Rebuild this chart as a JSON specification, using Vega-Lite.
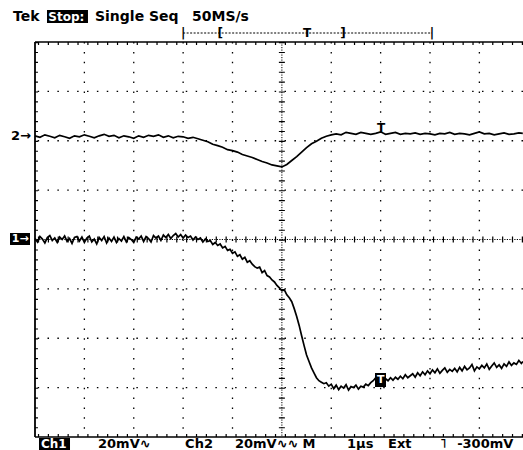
{
  "$schema": "https://vega.github.io/schema/vega-lite/v6.json",
  "width": 488,
  "height": 395,
  "autosize": {"type": "none"},
  "padding": {"left": 35, "top": 42, "right": 0, "bottom": 13},
  "background": "white",
  "config": {"view": {"stroke": null}, "axis": {"disable": true}},
  "datasets": {
    "one": [{"k": 0}],
    "traces": [
      {"ch":"2","t":0.0,"v":2.10},{"ch":"2","t":0.1,"v":2.07},{"ch":"2","t":0.2,"v":2.12},{"ch":"2","t":0.3,"v":2.09},{"ch":"2","t":0.4,"v":2.06},{"ch":"2","t":0.5,"v":2.11},{"ch":"2","t":0.6,"v":2.08},{"ch":"2","t":0.7,"v":2.05},{"ch":"2","t":0.8,"v":2.10},{"ch":"2","t":0.9,"v":2.08},
      {"ch":"2","t":1.0,"v":2.12},{"ch":"2","t":1.1,"v":2.09},{"ch":"2","t":1.2,"v":2.06},{"ch":"2","t":1.3,"v":2.10},{"ch":"2","t":1.4,"v":2.13},{"ch":"2","t":1.5,"v":2.09},{"ch":"2","t":1.6,"v":2.11},{"ch":"2","t":1.7,"v":2.06},{"ch":"2","t":1.8,"v":2.10},{"ch":"2","t":1.9,"v":2.08},
      {"ch":"2","t":2.0,"v":2.05},{"ch":"2","t":2.1,"v":2.10},{"ch":"2","t":2.2,"v":2.07},{"ch":"2","t":2.3,"v":2.11},{"ch":"2","t":2.4,"v":2.09},{"ch":"2","t":2.5,"v":2.12},{"ch":"2","t":2.6,"v":2.07},{"ch":"2","t":2.7,"v":2.10},{"ch":"2","t":2.8,"v":2.06},{"ch":"2","t":2.9,"v":2.09},
      {"ch":"2","t":3.0,"v":2.08},{"ch":"2","t":3.1,"v":2.05},{"ch":"2","t":3.2,"v":2.07},{"ch":"2","t":3.3,"v":2.04},{"ch":"2","t":3.4,"v":2.01},{"ch":"2","t":3.5,"v":1.98},{"ch":"2","t":3.6,"v":1.93},{"ch":"2","t":3.7,"v":1.90},{"ch":"2","t":3.8,"v":1.87},{"ch":"2","t":3.9,"v":1.82},
      {"ch":"2","t":4.0,"v":1.80},{"ch":"2","t":4.1,"v":1.77},{"ch":"2","t":4.2,"v":1.72},{"ch":"2","t":4.3,"v":1.69},{"ch":"2","t":4.4,"v":1.66},{"ch":"2","t":4.5,"v":1.62},{"ch":"2","t":4.6,"v":1.58},{"ch":"2","t":4.7,"v":1.55},{"ch":"2","t":4.8,"v":1.51},{"ch":"2","t":4.9,"v":1.49},
      {"ch":"2","t":5.0,"v":1.47},{"ch":"2","t":5.1,"v":1.52},{"ch":"2","t":5.2,"v":1.60},{"ch":"2","t":5.3,"v":1.68},{"ch":"2","t":5.4,"v":1.77},{"ch":"2","t":5.5,"v":1.86},{"ch":"2","t":5.6,"v":1.94},{"ch":"2","t":5.7,"v":1.99},{"ch":"2","t":5.8,"v":2.05},{"ch":"2","t":5.9,"v":2.09},
      {"ch":"2","t":6.0,"v":2.12},{"ch":"2","t":6.1,"v":2.14},{"ch":"2","t":6.2,"v":2.12},{"ch":"2","t":6.3,"v":2.17},{"ch":"2","t":6.4,"v":2.15},{"ch":"2","t":6.5,"v":2.13},{"ch":"2","t":6.6,"v":2.17},{"ch":"2","t":6.7,"v":2.15},{"ch":"2","t":6.8,"v":2.13},{"ch":"2","t":6.9,"v":2.15},
      {"ch":"2","t":7.0,"v":2.18},{"ch":"2","t":7.1,"v":2.13},{"ch":"2","t":7.2,"v":2.15},{"ch":"2","t":7.3,"v":2.17},{"ch":"2","t":7.4,"v":2.13},{"ch":"2","t":7.5,"v":2.15},{"ch":"2","t":7.6,"v":2.14},{"ch":"2","t":7.7,"v":2.16},{"ch":"2","t":7.8,"v":2.13},{"ch":"2","t":7.9,"v":2.15},
      {"ch":"2","t":8.0,"v":2.14},{"ch":"2","t":8.1,"v":2.12},{"ch":"2","t":8.2,"v":2.15},{"ch":"2","t":8.3,"v":2.14},{"ch":"2","t":8.4,"v":2.17},{"ch":"2","t":8.5,"v":2.13},{"ch":"2","t":8.6,"v":2.15},{"ch":"2","t":8.7,"v":2.14},{"ch":"2","t":8.8,"v":2.12},{"ch":"2","t":8.9,"v":2.15},
      {"ch":"2","t":9.0,"v":2.18},{"ch":"2","t":9.1,"v":2.14},{"ch":"2","t":9.2,"v":2.15},{"ch":"2","t":9.3,"v":2.12},{"ch":"2","t":9.4,"v":2.14},{"ch":"2","t":9.5,"v":2.16},{"ch":"2","t":9.6,"v":2.13},{"ch":"2","t":9.7,"v":2.14},{"ch":"2","t":9.8,"v":2.16},{"ch":"2","t":9.88,"v":2.15},
      {"ch":"1","t":0.00,"v":0.02},{"ch":"1","t":0.05,"v":-0.05},{"ch":"1","t":0.10,"v":0.06},{"ch":"1","t":0.15,"v":0.01},{"ch":"1","t":0.20,"v":-0.07},{"ch":"1","t":0.25,"v":0.04},{"ch":"1","t":0.30,"v":0.08},{"ch":"1","t":0.35,"v":-0.02},{"ch":"1","t":0.40,"v":0.03},{"ch":"1","t":0.45,"v":-0.06},
      {"ch":"1","t":0.50,"v":0.05},{"ch":"1","t":0.55,"v":0.00},{"ch":"1","t":0.60,"v":0.07},{"ch":"1","t":0.65,"v":-0.04},{"ch":"1","t":0.70,"v":0.02},{"ch":"1","t":0.75,"v":-0.08},{"ch":"1","t":0.80,"v":0.04},{"ch":"1","t":0.85,"v":0.06},{"ch":"1","t":0.90,"v":-0.03},{"ch":"1","t":0.95,"v":0.05},
      {"ch":"1","t":1.00,"v":-0.06},{"ch":"1","t":1.05,"v":0.03},{"ch":"1","t":1.10,"v":0.07},{"ch":"1","t":1.15,"v":-0.05},{"ch":"1","t":1.20,"v":0.01},{"ch":"1","t":1.25,"v":-0.09},{"ch":"1","t":1.30,"v":0.04},{"ch":"1","t":1.35,"v":-0.02},{"ch":"1","t":1.40,"v":0.06},{"ch":"1","t":1.45,"v":-0.07},
      {"ch":"1","t":1.50,"v":0.03},{"ch":"1","t":1.55,"v":-0.04},{"ch":"1","t":1.60,"v":0.05},{"ch":"1","t":1.65,"v":-0.06},{"ch":"1","t":1.70,"v":0.02},{"ch":"1","t":1.75,"v":-0.03},{"ch":"1","t":1.80,"v":0.06},{"ch":"1","t":1.85,"v":-0.05},{"ch":"1","t":1.90,"v":0.04},{"ch":"1","t":1.95,"v":0.00},
      {"ch":"1","t":2.00,"v":-0.06},{"ch":"1","t":2.05,"v":0.05},{"ch":"1","t":2.10,"v":0.01},{"ch":"1","t":2.15,"v":0.07},{"ch":"1","t":2.20,"v":-0.04},{"ch":"1","t":2.25,"v":0.06},{"ch":"1","t":2.30,"v":0.02},{"ch":"1","t":2.35,"v":-0.05},{"ch":"1","t":2.40,"v":0.08},{"ch":"1","t":2.45,"v":0.03},
      {"ch":"1","t":2.50,"v":0.07},{"ch":"1","t":2.55,"v":-0.02},{"ch":"1","t":2.60,"v":0.09},{"ch":"1","t":2.65,"v":0.04},{"ch":"1","t":2.70,"v":0.10},{"ch":"1","t":2.75,"v":0.02},{"ch":"1","t":2.80,"v":0.08},{"ch":"1","t":2.85,"v":0.12},{"ch":"1","t":2.90,"v":0.05},{"ch":"1","t":2.95,"v":0.10},
      {"ch":"1","t":3.00,"v":0.03},{"ch":"1","t":3.05,"v":0.09},{"ch":"1","t":3.10,"v":0.04},{"ch":"1","t":3.15,"v":0.07},{"ch":"1","t":3.20,"v":-0.01},{"ch":"1","t":3.25,"v":0.05},{"ch":"1","t":3.30,"v":0.00},{"ch":"1","t":3.35,"v":0.03},{"ch":"1","t":3.40,"v":-0.05},{"ch":"1","t":3.45,"v":0.01},
      {"ch":"1","t":3.50,"v":-0.04},{"ch":"1","t":3.55,"v":-0.02},{"ch":"1","t":3.60,"v":-0.10},{"ch":"1","t":3.65,"v":-0.06},{"ch":"1","t":3.70,"v":-0.12},{"ch":"1","t":3.75,"v":-0.09},{"ch":"1","t":3.80,"v":-0.17},{"ch":"1","t":3.85,"v":-0.14},{"ch":"1","t":3.90,"v":-0.22},{"ch":"1","t":3.95,"v":-0.20},
      {"ch":"1","t":4.00,"v":-0.28},{"ch":"1","t":4.05,"v":-0.25},{"ch":"1","t":4.10,"v":-0.34},{"ch":"1","t":4.15,"v":-0.31},{"ch":"1","t":4.20,"v":-0.40},{"ch":"1","t":4.25,"v":-0.36},{"ch":"1","t":4.30,"v":-0.46},{"ch":"1","t":4.35,"v":-0.43},{"ch":"1","t":4.40,"v":-0.50},{"ch":"1","t":4.45,"v":-0.55},
      {"ch":"1","t":4.50,"v":-0.58},{"ch":"1","t":4.55,"v":-0.56},{"ch":"1","t":4.60,"v":-0.67},{"ch":"1","t":4.65,"v":-0.63},{"ch":"1","t":4.70,"v":-0.73},{"ch":"1","t":4.75,"v":-0.76},{"ch":"1","t":4.80,"v":-0.82},{"ch":"1","t":4.85,"v":-0.86},{"ch":"1","t":4.90,"v":-0.93},{"ch":"1","t":4.95,"v":-0.98},
      {"ch":"1","t":5.00,"v":-1.04},{"ch":"1","t":5.05,"v":-1.02},{"ch":"1","t":5.10,"v":-1.12},{"ch":"1","t":5.15,"v":-1.18},{"ch":"1","t":5.20,"v":-1.26},{"ch":"1","t":5.25,"v":-1.40},{"ch":"1","t":5.30,"v":-1.56},{"ch":"1","t":5.35,"v":-1.74},{"ch":"1","t":5.40,"v":-1.95},{"ch":"1","t":5.45,"v":-2.15},
      {"ch":"1","t":5.50,"v":-2.34},{"ch":"1","t":5.55,"v":-2.47},{"ch":"1","t":5.60,"v":-2.60},{"ch":"1","t":5.65,"v":-2.70},{"ch":"1","t":5.70,"v":-2.80},{"ch":"1","t":5.75,"v":-2.86},{"ch":"1","t":5.80,"v":-2.89},{"ch":"1","t":5.85,"v":-2.92},{"ch":"1","t":5.90,"v":-2.90},{"ch":"1","t":5.95,"v":-2.97},
      {"ch":"1","t":6.00,"v":-2.93},{"ch":"1","t":6.05,"v":-3.02},{"ch":"1","t":6.10,"v":-2.95},{"ch":"1","t":6.15,"v":-3.04},{"ch":"1","t":6.20,"v":-2.97},{"ch":"1","t":6.25,"v":-3.01},{"ch":"1","t":6.30,"v":-2.94},{"ch":"1","t":6.35,"v":-3.05},{"ch":"1","t":6.40,"v":-2.98},{"ch":"1","t":6.45,"v":-3.00},
      {"ch":"1","t":6.50,"v":-2.95},{"ch":"1","t":6.55,"v":-3.03},{"ch":"1","t":6.60,"v":-2.97},{"ch":"1","t":6.65,"v":-2.99},{"ch":"1","t":6.70,"v":-2.93},{"ch":"1","t":6.75,"v":-2.96},{"ch":"1","t":6.80,"v":-2.90},{"ch":"1","t":6.85,"v":-2.86},{"ch":"1","t":6.90,"v":-2.80},{"ch":"1","t":6.95,"v":-2.90},
      {"ch":"1","t":7.00,"v":-2.84},{"ch":"1","t":7.05,"v":-2.96},{"ch":"1","t":7.10,"v":-2.82},{"ch":"1","t":7.15,"v":-2.86},{"ch":"1","t":7.20,"v":-2.80},{"ch":"1","t":7.25,"v":-2.85},{"ch":"1","t":7.30,"v":-2.79},{"ch":"1","t":7.35,"v":-2.83},{"ch":"1","t":7.40,"v":-2.77},{"ch":"1","t":7.45,"v":-2.82},
      {"ch":"1","t":7.50,"v":-2.74},{"ch":"1","t":7.55,"v":-2.80},{"ch":"1","t":7.60,"v":-2.76},{"ch":"1","t":7.65,"v":-2.72},{"ch":"1","t":7.70,"v":-2.79},{"ch":"1","t":7.75,"v":-2.70},{"ch":"1","t":7.80,"v":-2.76},{"ch":"1","t":7.85,"v":-2.68},{"ch":"1","t":7.90,"v":-2.74},{"ch":"1","t":7.95,"v":-2.66},
      {"ch":"1","t":8.00,"v":-2.72},{"ch":"1","t":8.05,"v":-2.64},{"ch":"1","t":8.10,"v":-2.70},{"ch":"1","t":8.15,"v":-2.62},{"ch":"1","t":8.20,"v":-2.71},{"ch":"1","t":8.25,"v":-2.65},{"ch":"1","t":8.30,"v":-2.60},{"ch":"1","t":8.35,"v":-2.69},{"ch":"1","t":8.40,"v":-2.63},{"ch":"1","t":8.45,"v":-2.67},
      {"ch":"1","t":8.50,"v":-2.61},{"ch":"1","t":8.55,"v":-2.68},{"ch":"1","t":8.60,"v":-2.59},{"ch":"1","t":8.65,"v":-2.66},{"ch":"1","t":8.70,"v":-2.57},{"ch":"1","t":8.75,"v":-2.64},{"ch":"1","t":8.80,"v":-2.60},{"ch":"1","t":8.85,"v":-2.53},{"ch":"1","t":8.90,"v":-2.66},{"ch":"1","t":8.95,"v":-2.58},
      {"ch":"1","t":9.00,"v":-2.62},{"ch":"1","t":9.05,"v":-2.55},{"ch":"1","t":9.10,"v":-2.60},{"ch":"1","t":9.15,"v":-2.52},{"ch":"1","t":9.20,"v":-2.63},{"ch":"1","t":9.25,"v":-2.56},{"ch":"1","t":9.30,"v":-2.50},{"ch":"1","t":9.35,"v":-2.59},{"ch":"1","t":9.40,"v":-2.54},{"ch":"1","t":9.45,"v":-2.61},
      {"ch":"1","t":9.50,"v":-2.52},{"ch":"1","t":9.55,"v":-2.57},{"ch":"1","t":9.60,"v":-2.48},{"ch":"1","t":9.65,"v":-2.55},{"ch":"1","t":9.70,"v":-2.50},{"ch":"1","t":9.75,"v":-2.53},{"ch":"1","t":9.80,"v":-2.45},{"ch":"1","t":9.85,"v":-2.51},{"ch":"1","t":9.88,"v":-2.47}
    ],
    "head": [
      {"tx":-0.446,"ty":4.425,"label":"Tek"},
      {"tx":1.215,"ty":4.425,"label":"Single Seq"},
      {"tx":3.18,"ty":4.425,"label":"50MS/s"}
    ],
    "foot": [
      {"tx":1.276,"ty":-4.223,"label":"20mV∿"},
      {"tx":3.04,"ty":-4.223,"label":"Ch2"},
      {"tx":4.05,"ty":-4.223,"label":"20mV∿∿"},
      {"tx":5.42,"ty":-4.223,"label":"M"},
      {"tx":6.32,"ty":-4.223,"label":"1µs"},
      {"tx":7.15,"ty":-4.223,"label":"Ext"},
      {"tx":8.2,"ty":-4.223,"label":"˥"},
      {"tx":8.55,"ty":-4.223,"label":"-300mV"}
    ],
    "markers": [
      {"tx":-0.081,"ty":2.096,"label":"2→"}
    ],
    "centered": [
      {"tx":7.01,"ty":2.258,"label":"T"},
      {"tx":3.75,"ty":4.182,"label":"["},
      {"tx":5.51,"ty":4.182,"label":"T"},
      {"tx":6.24,"ty":4.182,"label":"]"},
      {"tx":3.0,"ty":4.182,"label":"|"},
      {"tx":8.04,"ty":4.182,"label":"|"}
    ],
    "boxes": [
      {"x1":0.243,"x2":1.073,"y1":4.648,"y2":4.385},
      {"x1":0.081,"x2":0.709,"y1":-4.02,"y2":-4.263},
      {"x1":-0.506,"x2":-0.101,"y1":0.132,"y2":-0.111},
      {"x1":6.886,"x2":7.109,"y1":-2.704,"y2":-2.987}
    ],
    "whiteleft": [
      {"tx":0.27,"ty":4.425,"label":"Stop:"},
      {"tx":0.12,"ty":-4.223,"label":"Ch1"}
    ],
    "whitecenter": [
      {"tx":-0.30,"ty":0.01,"label":"1→"},
      {"tx":7.0,"ty":-2.845,"label":"T"}
    ]
  },
  "layer": [
    {"data": {"name": "one"}, "mark": {"type": "rule", "color": "black", "strokeWidth": 1.3, "strokeDash": [1.5, 8.375]}, "encoding": {"x": {"datum": 1, "axis": null, "scale": {"domain": [0, 9.8835], "nice": false, "zero": false}}}},
    {"data": {"name": "one"}, "mark": {"type": "rule", "color": "black", "strokeWidth": 1.3, "strokeDash": [1.5, 8.375]}, "encoding": {"x": {"datum": 2, "axis": null}}},
    {"data": {"name": "one"}, "mark": {"type": "rule", "color": "black", "strokeWidth": 1.3, "strokeDash": [1.5, 8.375]}, "encoding": {"x": {"datum": 3, "axis": null}}},
    {"data": {"name": "one"}, "mark": {"type": "rule", "color": "black", "strokeWidth": 1.3, "strokeDash": [1.5, 8.375]}, "encoding": {"x": {"datum": 4, "axis": null}}},
    {"data": {"name": "one"}, "mark": {"type": "rule", "color": "black", "strokeWidth": 1.3, "strokeDash": [1.5, 8.375]}, "encoding": {"x": {"datum": 6, "axis": null}}},
    {"data": {"name": "one"}, "mark": {"type": "rule", "color": "black", "strokeWidth": 1.3, "strokeDash": [1.5, 8.375]}, "encoding": {"x": {"datum": 7, "axis": null}}},
    {"data": {"name": "one"}, "mark": {"type": "rule", "color": "black", "strokeWidth": 1.3, "strokeDash": [1.5, 8.375]}, "encoding": {"x": {"datum": 8, "axis": null}}},
    {"data": {"name": "one"}, "mark": {"type": "rule", "color": "black", "strokeWidth": 1.3, "strokeDash": [1.5, 8.375]}, "encoding": {"x": {"datum": 9, "axis": null}}},
    {"data": {"name": "one"}, "mark": {"type": "rule", "color": "black", "strokeWidth": 1.3, "strokeDash": [1.5, 8.375]}, "encoding": {"y": {"datum": 3, "axis": null, "scale": {"domain": [-4, 4], "nice": false, "zero": false}}}},
    {"data": {"name": "one"}, "mark": {"type": "rule", "color": "black", "strokeWidth": 1.3, "strokeDash": [1.5, 8.375]}, "encoding": {"y": {"datum": 2, "axis": null}}},
    {"data": {"name": "one"}, "mark": {"type": "rule", "color": "black", "strokeWidth": 1.3, "strokeDash": [1.5, 8.375]}, "encoding": {"y": {"datum": 1, "axis": null}}},
    {"data": {"name": "one"}, "mark": {"type": "rule", "color": "black", "strokeWidth": 1.3, "strokeDash": [1.5, 8.375]}, "encoding": {"y": {"datum": -1, "axis": null}}},
    {"data": {"name": "one"}, "mark": {"type": "rule", "color": "black", "strokeWidth": 1.3, "strokeDash": [1.5, 8.375]}, "encoding": {"y": {"datum": -2, "axis": null}}},
    {"data": {"name": "one"}, "mark": {"type": "rule", "color": "black", "strokeWidth": 1.3, "strokeDash": [1.5, 8.375]}, "encoding": {"y": {"datum": -3, "axis": null}}},
    {"data": {"name": "one"}, "mark": {"type": "rule", "color": "black", "strokeWidth": 1.6}, "encoding": {"y": {"datum": 4, "axis": null}}},
    {"data": {"name": "one"}, "mark": {"type": "rule", "color": "black", "strokeWidth": 1.6}, "encoding": {"y": {"datum": -4, "axis": null}}},
    {"data": {"name": "one"}, "mark": {"type": "rule", "color": "black", "strokeWidth": 1.8}, "encoding": {"x": {"datum": 0, "axis": null}}},
    {"data": {"name": "one"}, "mark": {"type": "rule", "color": "black", "strokeWidth": 3, "strokeDash": [1.2, 8.675]}, "encoding": {"y": {"datum": 3.97, "axis": null}}},
    {"data": {"name": "one"}, "mark": {"type": "rule", "color": "black", "strokeWidth": 3, "strokeDash": [1.2, 8.675]}, "encoding": {"y": {"datum": -3.97, "axis": null}}},
    {"data": {"name": "one"}, "mark": {"type": "rule", "color": "black", "strokeWidth": 3, "strokeDash": [1.2, 8.675]}, "encoding": {"x": {"datum": 0.03, "axis": null}}},
    {"data": {"name": "one"}, "mark": {"type": "rule", "color": "black", "strokeWidth": 1, "strokeDash": [1.2, 1.3]}, "encoding": {"y": {"datum": 0, "axis": null}}},
    {"data": {"name": "one"}, "mark": {"type": "rule", "color": "black", "strokeWidth": 6, "strokeDash": [1.2, 8.675]}, "encoding": {"y": {"datum": 0, "axis": null}}},
    {"data": {"name": "one"}, "mark": {"type": "rule", "color": "black", "strokeWidth": 1, "strokeDash": [1.2, 1.3]}, "encoding": {"x": {"datum": 5, "axis": null}}},
    {"data": {"name": "one"}, "mark": {"type": "rule", "color": "black", "strokeWidth": 6, "strokeDash": [1.2, 8.675]}, "encoding": {"x": {"datum": 5, "axis": null}}},
    {"data": {"name": "one"}, "mark": {"type": "rule", "color": "black", "strokeWidth": 1, "strokeDash": [2, 1.5]}, "encoding": {"x": {"datum": 3.0, "axis": null}, "x2": {"datum": 8.04}, "y": {"datum": 4.182, "axis": null}}},
    {
      "data": {"name": "traces"},
      "mark": {"type": "line", "color": "black", "strokeWidth": 1.7},
      "encoding": {
        "x": {"field": "t", "type": "quantitative", "axis": null},
        "y": {"field": "v", "type": "quantitative", "axis": null},
        "detail": {"field": "ch"}
      }
    },
    {
      "data": {"name": "boxes"},
      "mark": {"type": "rect", "color": "black"},
      "encoding": {
        "x": {"field": "x1", "type": "quantitative", "axis": null}, "x2": {"field": "x2"},
        "y": {"field": "y1", "type": "quantitative", "axis": null}, "y2": {"field": "y2"}
      }
    },
    {
      "data": {"name": "head"},
      "mark": {"type": "text", "color": "black", "font": "DejaVu Sans", "fontWeight": "bold", "fontSize": 14, "align": "left", "baseline": "alphabetic"},
      "encoding": {
        "x": {"field": "tx", "type": "quantitative", "axis": null},
        "y": {"field": "ty", "type": "quantitative", "axis": null},
        "text": {"field": "label"}
      }
    },
    {
      "data": {"name": "foot"},
      "mark": {"type": "text", "color": "black", "font": "DejaVu Sans", "fontWeight": "bold", "fontSize": 13, "align": "left", "baseline": "alphabetic"},
      "encoding": {
        "x": {"field": "tx", "type": "quantitative", "axis": null},
        "y": {"field": "ty", "type": "quantitative", "axis": null},
        "text": {"field": "label"}
      }
    },
    {
      "data": {"name": "markers"},
      "mark": {"type": "text", "color": "black", "font": "DejaVu Sans", "fontWeight": "bold", "fontSize": 13, "align": "right", "baseline": "middle"},
      "encoding": {
        "x": {"field": "tx", "type": "quantitative", "axis": null},
        "y": {"field": "ty", "type": "quantitative", "axis": null},
        "text": {"field": "label"}
      }
    },
    {
      "data": {"name": "centered"},
      "mark": {"type": "text", "color": "black", "font": "DejaVu Sans", "fontWeight": "bold", "fontSize": 12, "align": "center", "baseline": "middle"},
      "encoding": {
        "x": {"field": "tx", "type": "quantitative", "axis": null},
        "y": {"field": "ty", "type": "quantitative", "axis": null},
        "text": {"field": "label"}
      }
    },
    {
      "data": {"name": "whiteleft"},
      "mark": {"type": "text", "color": "white", "font": "DejaVu Sans", "fontWeight": "bold", "fontSize": 12, "align": "left", "baseline": "alphabetic"},
      "encoding": {
        "x": {"field": "tx", "type": "quantitative", "axis": null},
        "y": {"field": "ty", "type": "quantitative", "axis": null},
        "text": {"field": "label"}
      }
    },
    {
      "data": {"name": "whitecenter"},
      "mark": {"type": "text", "color": "white", "font": "DejaVu Sans", "fontWeight": "bold", "fontSize": 11, "align": "center", "baseline": "middle"},
      "encoding": {
        "x": {"field": "tx", "type": "quantitative", "axis": null},
        "y": {"field": "ty", "type": "quantitative", "axis": null},
        "text": {"field": "label"}
      }
    }
  ]
}
